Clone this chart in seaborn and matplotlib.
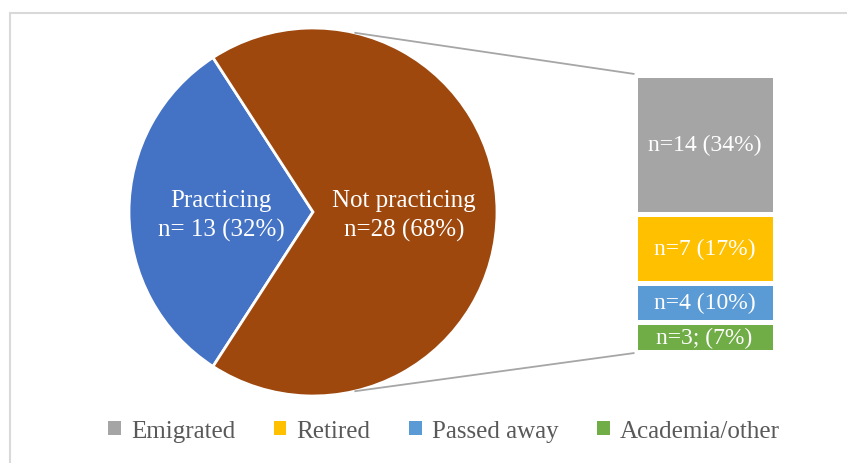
import numpy as np
import matplotlib
matplotlib.use("Agg")
import matplotlib.pyplot as plt
import seaborn as sns
from matplotlib.patches import Rectangle

sns.set_theme(style="white")
plt.rcParams["font.family"] = ["Liberation Serif", "DejaVu Serif"]

# pie: practicing vs not practicing
pie_labels = ["Practicing", "Not practicing"]
pie_values = [13, 28]
pie_texts = ["Practicing\nn= 13 (32%)", "Not practicing\nn=28 (68%)"]
pie_colors = ["#4472C4", "#9E480E"]

# bar breakdown of "not practicing" (top to bottom)
bar_labels = ["Emigrated", "Retired", "Passed away", "Academia/other"]
bar_values = [14, 7, 4, 3]
bar_texts = ["n=14 (34%)", "n=7 (17%)", "n=4 (10%)", "n=3; (7%)"]
bar_colors = ["#A5A5A5", "#FFC000", "#5B9BD5", "#70AD47"]

W, H = 847, 464
fig = plt.figure(figsize=(W / 100, H / 100), dpi=100)
ax = fig.add_axes([0, 0, 1, 1])

# pie
cx, cy, r = 313, H - 213, 184
frac = pie_values[0] / sum(pie_values)
ax.pie(pie_values, colors=pie_colors, center=(cx, cy), radius=r,
       startangle=180 - 180 * frac, counterclock=True,
       wedgeprops=dict(edgecolor="white", linewidth=2), frame=True)
ax.set_xlim(0, W)
ax.set_ylim(0, H)
ax.set_aspect("equal")
ax.axis("off")
ax.text(221, H - 216, pie_texts[0], ha="center", va="center", color="white",
        fontsize=18, linespacing=1.38)
ax.text(404, H - 216, pie_texts[1], ha="center", va="center", color="white",
        fontsize=18, linespacing=1.38)

# stacked bar
bx, bw = 704.5, 140
b_bottom, b_top = H - 353, H - 76
scale = (b_top - b_bottom) / sum(bar_values)
bottom = b_bottom
for lab, val, txt, col in reversed(list(zip(bar_labels, bar_values, bar_texts, bar_colors))):
    bars = ax.bar(bx, val * scale, bottom=bottom, width=bw, color=col,
                  edgecolor="white", linewidth=3.6, label=lab)
    ax.bar_label(bars, labels=[txt], label_type="center", color="white", fontsize=17)
    bottom += val * scale

# connector lines
ang = np.deg2rad(77)
ax.plot([cx + r * np.cos(ang), bx - bw / 2], [cy + r * np.sin(ang), b_top + 1],
        color="#A6A6A6", lw=1.3, solid_capstyle="butt")
ax.plot([cx + r * np.cos(-ang), bx - bw / 2], [cy + r * np.sin(-ang), b_bottom - 1],
        color="#A6A6A6", lw=1.3, solid_capstyle="butt")

# legend
handles, labels = ax.get_legend_handles_labels()
order = [labels.index(l) for l in bar_labels]
leg = fig.legend([handles[i] for i in order], bar_labels, loc="center",
                 bbox_to_anchor=(444 / W, 1 - 432 / H), ncol=4, frameon=False,
                 handlelength=0.5, handleheight=0.5, handletextpad=0.4,
                 columnspacing=1.55, fontsize=18, labelcolor="#595959")
for h in leg.legend_handles:
    h.set_edgecolor("none")

# chart border
fig.patches.append(Rectangle((10 / W, -0.1), 2, 1.1 - 14 / H, transform=fig.transFigure,
                             fill=False, edgecolor="#D9D9D9", lw=1.5))

fig.savefig("out.png", dpi=100)
